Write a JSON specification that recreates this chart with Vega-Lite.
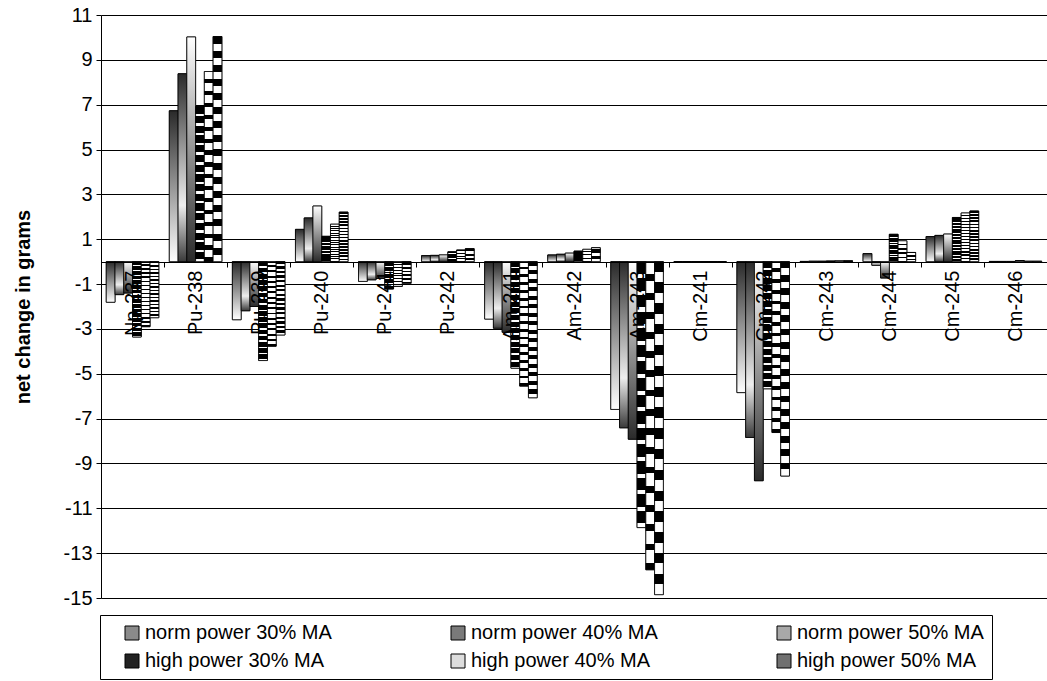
{
  "$schema": "https://vega.github.io/schema/vega-lite/v6.json",
  "width": 946,
  "height": 583,
  "autosize": {"type": "none"},
  "padding": {"left": 101, "top": 15, "right": 0, "bottom": 83},
  "background": "white",
  "config": {"font": "Liberation Sans", "view": {"stroke": null}},
  "data": {"values": [
    {"iso": "Np-237", "norm power 30% MA": -1.81, "norm power 40% MA": -1.47, "norm power 50% MA": -1.4, "high power 30% MA": -3.36, "high power 40% MA": -2.9, "high power 50% MA": -2.5},
    {"iso": "Pu-238", "norm power 30% MA": 6.73, "norm power 40% MA": 8.38, "norm power 50% MA": 10.02, "high power 30% MA": 6.93, "high power 40% MA": 8.48, "high power 50% MA": 10.04},
    {"iso": "Pu-239", "norm power 30% MA": -2.59, "norm power 40% MA": -2.19, "norm power 50% MA": -2.0, "high power 30% MA": -4.41, "high power 40% MA": -3.77, "high power 50% MA": -3.27},
    {"iso": "Pu-240", "norm power 30% MA": 1.44, "norm power 40% MA": 1.95, "norm power 50% MA": 2.48, "high power 30% MA": 1.13, "high power 40% MA": 1.67, "high power 50% MA": 2.21},
    {"iso": "Pu-241", "norm power 30% MA": -0.88, "norm power 40% MA": -0.81, "norm power 50% MA": -0.75, "high power 30% MA": -1.22, "high power 40% MA": -1.1, "high power 50% MA": -0.97},
    {"iso": "Pu-242", "norm power 30% MA": 0.27, "norm power 40% MA": 0.28, "norm power 50% MA": 0.3, "high power 30% MA": 0.44, "high power 40% MA": 0.52, "high power 50% MA": 0.58},
    {"iso": "Am-241", "norm power 30% MA": -2.56, "norm power 40% MA": -2.97, "norm power 50% MA": -3.15, "high power 30% MA": -4.75, "high power 40% MA": -5.55, "high power 50% MA": -6.07},
    {"iso": "Am-242", "norm power 30% MA": 0.3, "norm power 40% MA": 0.33, "norm power 50% MA": 0.38, "high power 30% MA": 0.47, "high power 40% MA": 0.55, "high power 50% MA": 0.62},
    {"iso": "Am-243", "norm power 30% MA": -6.59, "norm power 40% MA": -7.41, "norm power 50% MA": -7.92, "high power 30% MA": -11.86, "high power 40% MA": -13.74, "high power 50% MA": -14.85},
    {"iso": "Cm-241", "norm power 30% MA": 0, "norm power 40% MA": 0, "norm power 50% MA": 0, "high power 30% MA": 0, "high power 40% MA": 0, "high power 50% MA": 0},
    {"iso": "Cm-242", "norm power 30% MA": -5.84, "norm power 40% MA": -7.84, "norm power 50% MA": -9.77, "high power 30% MA": -5.67, "high power 40% MA": -7.62, "high power 50% MA": -9.56},
    {"iso": "Cm-243", "norm power 30% MA": 0.01, "norm power 40% MA": 0.02, "norm power 50% MA": 0.02, "high power 30% MA": 0.03, "high power 40% MA": 0.04, "high power 50% MA": 0.04},
    {"iso": "Cm-244", "norm power 30% MA": 0.36, "norm power 40% MA": -0.16, "norm power 50% MA": -0.73, "high power 30% MA": 1.22, "high power 40% MA": 0.93, "high power 50% MA": 0.41},
    {"iso": "Cm-245", "norm power 30% MA": 1.12, "norm power 40% MA": 1.17, "norm power 50% MA": 1.23, "high power 30% MA": 1.97, "high power 40% MA": 2.17, "high power 50% MA": 2.26},
    {"iso": "Cm-246", "norm power 30% MA": 0.01, "norm power 40% MA": 0.01, "norm power 50% MA": 0.01, "high power 30% MA": 0.05, "high power 40% MA": 0.02, "high power 50% MA": 0.02}
  ]},
  "transform": [
    {"fold": ["norm power 30% MA", "norm power 40% MA", "norm power 50% MA", "high power 30% MA", "high power 40% MA", "high power 50% MA"], "as": ["series", "value"]}
  ],
  "encoding": {
    "x": {
      "field": "iso", "type": "nominal", "sort": null,
      "scale": {"paddingInner": 0, "paddingOuter": 0},
      "axis": {
        "orient": "bottom", "offset": -336, "title": null, "labelAngle": 270,
        "labelFontSize": 20, "labelColor": "black", "labelAlign": "right", "labelBaseline": "middle",
        "tickBand": "extent", "tickSize": 5, "tickColor": "black", "domainColor": "black",
        "labelPadding": 3, "zindex": 1
      }
    },
    "xOffset": {
      "field": "series", "type": "nominal",
      "sort": ["norm power 30% MA", "norm power 40% MA", "norm power 50% MA", "high power 30% MA", "high power 40% MA", "high power 50% MA"],
      "scale": {"paddingInner": 0, "paddingOuter": 0.6}
    },
    "y": {
      "field": "value", "type": "quantitative",
      "scale": {"domain": [-15, 11], "nice": false, "zero": false},
      "axis": {
        "values": [-15, -13, -11, -9, -7, -5, -3, -1, 1, 3, 5, 7, 9, 11],
        "labelExpr": "(datum.value < 0 ? '-' : '') + abs(datum.value)",
        "grid": true, "gridColor": "black", "gridWidth": 1,
        "domainColor": "black", "tickColor": "black", "tickSize": 5,
        "labelFontSize": 20, "labelColor": "black", "labelPadding": 4,
        "title": "net change in grams", "titleFontSize": 20, "titleFontWeight": "bold",
        "titleColor": "black", "titlePadding": 30
      }
    }
  },
  "layer": [
    {
      "mark": {"type": "bar", "stroke": "black", "strokeWidth": 0.8},
      "encoding": {
        "fill": {
          "field": "series", "type": "nominal",
          "scale": {
            "domain": ["norm power 30% MA", "norm power 40% MA", "norm power 50% MA", "high power 30% MA", "high power 40% MA", "high power 50% MA"],
            "range": ["#8a8a8a", "#7a7a7a", "#a8a8a8", "#222222", "#dddddd", "#707070"]
          },
          "legend": {
            "orient": "none", "legendX": -1, "legendY": 600,
            "direction": "horizontal", "columns": 3, "columnPadding": 116, "rowPadding": 8,
            "padding": 8, "strokeColor": "black", "fillColor": "white",
            "symbolType": "square", "symbolSize": 196, "symbolStrokeColor": "black", "symbolStrokeWidth": 1,
            "labelFontSize": 20, "labelColor": "black", "labelOffset": 3, "labelLimit": 300,
            "title": "\u00a0", "titleOrient": "left", "titlePadding": 14, "titleFontSize": 20
          }
        }
      }
    },
    {
      "mark": {"type": "bar", "stroke": "black", "strokeWidth": 0.8},
      "encoding": {
        "fill": {
          "condition": [
            {"test": "datum.series === 'norm power 30% MA'", "value": {"gradient": "linear", "x1": 0, "y1": 0, "x2": 0, "y2": 1, "stops": [{"offset": 0, "color": "#2a2a2a"}, {"offset": 1, "color": "#ffffff"}]}},
            {"test": "datum.series === 'norm power 40% MA'", "value": {"gradient": "linear", "x1": 0, "y1": 0, "x2": 0, "y2": 1, "stops": [{"offset": 0, "color": "#2a2a2a"}, {"offset": 0.7, "color": "#eeeeee"}, {"offset": 1, "color": "#3a3a3a"}]}},
            {"test": "datum.series === 'norm power 50% MA'", "value": {"gradient": "linear", "x1": 0, "y1": 0, "x2": 0, "y2": 1, "stops": [{"offset": 0, "color": "#ffffff"}, {"offset": 1, "color": "#2a2a2a"}]}},
            {"test": "datum.series === 'high power 30% MA'", "value": {"gradient": "linear", "x1": 0, "y1": 0, "x2": 0, "y2": 1, "stops": [
              {"offset": 0, "color": "#000"}, {"offset": 0.047, "color": "#000"}, {"offset": 0.047, "color": "#fff"}, {"offset": 0.0625, "color": "#fff"},
              {"offset": 0.0625, "color": "#000"}, {"offset": 0.1095, "color": "#000"}, {"offset": 0.1095, "color": "#fff"}, {"offset": 0.125, "color": "#fff"},
              {"offset": 0.125, "color": "#000"}, {"offset": 0.172, "color": "#000"}, {"offset": 0.172, "color": "#fff"}, {"offset": 0.1875, "color": "#fff"},
              {"offset": 0.1875, "color": "#000"}, {"offset": 0.2345, "color": "#000"}, {"offset": 0.2345, "color": "#fff"}, {"offset": 0.25, "color": "#fff"},
              {"offset": 0.25, "color": "#000"}, {"offset": 0.297, "color": "#000"}, {"offset": 0.297, "color": "#fff"}, {"offset": 0.3125, "color": "#fff"},
              {"offset": 0.3125, "color": "#000"}, {"offset": 0.3595, "color": "#000"}, {"offset": 0.3595, "color": "#fff"}, {"offset": 0.375, "color": "#fff"},
              {"offset": 0.375, "color": "#000"}, {"offset": 0.422, "color": "#000"}, {"offset": 0.422, "color": "#fff"}, {"offset": 0.4375, "color": "#fff"},
              {"offset": 0.4375, "color": "#000"}, {"offset": 0.4845, "color": "#000"}, {"offset": 0.4845, "color": "#fff"}, {"offset": 0.5, "color": "#fff"},
              {"offset": 0.5, "color": "#000"}, {"offset": 0.547, "color": "#000"}, {"offset": 0.547, "color": "#fff"}, {"offset": 0.5625, "color": "#fff"},
              {"offset": 0.5625, "color": "#000"}, {"offset": 0.6095, "color": "#000"}, {"offset": 0.6095, "color": "#fff"}, {"offset": 0.625, "color": "#fff"},
              {"offset": 0.625, "color": "#000"}, {"offset": 0.672, "color": "#000"}, {"offset": 0.672, "color": "#fff"}, {"offset": 0.6875, "color": "#fff"},
              {"offset": 0.6875, "color": "#000"}, {"offset": 0.7345, "color": "#000"}, {"offset": 0.7345, "color": "#fff"}, {"offset": 0.75, "color": "#fff"},
              {"offset": 0.75, "color": "#000"}, {"offset": 0.797, "color": "#000"}, {"offset": 0.797, "color": "#fff"}, {"offset": 0.8125, "color": "#fff"},
              {"offset": 0.8125, "color": "#000"}, {"offset": 0.8595, "color": "#000"}, {"offset": 0.8595, "color": "#fff"}, {"offset": 0.875, "color": "#fff"},
              {"offset": 0.875, "color": "#000"}, {"offset": 0.922, "color": "#000"}, {"offset": 0.922, "color": "#fff"}, {"offset": 0.9375, "color": "#fff"},
              {"offset": 0.9375, "color": "#000"}, {"offset": 0.9845, "color": "#000"}, {"offset": 0.9845, "color": "#fff"}, {"offset": 1, "color": "#fff"}
            ]}},
            {"test": "datum.series === 'high power 40% MA'", "value": {"gradient": "linear", "x1": 0, "y1": 0, "x2": 0, "y2": 1, "stops": [
              {"offset": 0, "color": "#fff"}, {"offset": 0.04, "color": "#fff"}, {"offset": 0.04, "color": "#000"}, {"offset": 0.0625, "color": "#000"},
              {"offset": 0.0625, "color": "#fff"}, {"offset": 0.1025, "color": "#fff"}, {"offset": 0.1025, "color": "#000"}, {"offset": 0.125, "color": "#000"},
              {"offset": 0.125, "color": "#fff"}, {"offset": 0.165, "color": "#fff"}, {"offset": 0.165, "color": "#000"}, {"offset": 0.1875, "color": "#000"},
              {"offset": 0.1875, "color": "#fff"}, {"offset": 0.2275, "color": "#fff"}, {"offset": 0.2275, "color": "#000"}, {"offset": 0.25, "color": "#000"},
              {"offset": 0.25, "color": "#fff"}, {"offset": 0.29, "color": "#fff"}, {"offset": 0.29, "color": "#000"}, {"offset": 0.3125, "color": "#000"},
              {"offset": 0.3125, "color": "#fff"}, {"offset": 0.3525, "color": "#fff"}, {"offset": 0.3525, "color": "#000"}, {"offset": 0.375, "color": "#000"},
              {"offset": 0.375, "color": "#fff"}, {"offset": 0.415, "color": "#fff"}, {"offset": 0.415, "color": "#000"}, {"offset": 0.4375, "color": "#000"},
              {"offset": 0.4375, "color": "#fff"}, {"offset": 0.4775, "color": "#fff"}, {"offset": 0.4775, "color": "#000"}, {"offset": 0.5, "color": "#000"},
              {"offset": 0.5, "color": "#fff"}, {"offset": 0.54, "color": "#fff"}, {"offset": 0.54, "color": "#000"}, {"offset": 0.5625, "color": "#000"},
              {"offset": 0.5625, "color": "#fff"}, {"offset": 0.6025, "color": "#fff"}, {"offset": 0.6025, "color": "#000"}, {"offset": 0.625, "color": "#000"},
              {"offset": 0.625, "color": "#fff"}, {"offset": 0.665, "color": "#fff"}, {"offset": 0.665, "color": "#000"}, {"offset": 0.6875, "color": "#000"},
              {"offset": 0.6875, "color": "#fff"}, {"offset": 0.7275, "color": "#fff"}, {"offset": 0.7275, "color": "#000"}, {"offset": 0.75, "color": "#000"},
              {"offset": 0.75, "color": "#fff"}, {"offset": 0.79, "color": "#fff"}, {"offset": 0.79, "color": "#000"}, {"offset": 0.8125, "color": "#000"},
              {"offset": 0.8125, "color": "#fff"}, {"offset": 0.8525, "color": "#fff"}, {"offset": 0.8525, "color": "#000"}, {"offset": 0.875, "color": "#000"},
              {"offset": 0.875, "color": "#fff"}, {"offset": 0.915, "color": "#fff"}, {"offset": 0.915, "color": "#000"}, {"offset": 0.9375, "color": "#000"},
              {"offset": 0.9375, "color": "#fff"}, {"offset": 0.9775, "color": "#fff"}, {"offset": 0.9775, "color": "#000"}, {"offset": 1, "color": "#000"}
            ]}}
          ],
          "value": {"gradient": "linear", "x1": 0, "y1": 0, "x2": 0, "y2": 1, "stops": [
            {"offset": 0, "color": "#000"}, {"offset": 0.03125, "color": "#000"}, {"offset": 0.03125, "color": "#fff"}, {"offset": 0.0625, "color": "#fff"},
            {"offset": 0.0625, "color": "#000"}, {"offset": 0.09375, "color": "#000"}, {"offset": 0.09375, "color": "#fff"}, {"offset": 0.125, "color": "#fff"},
            {"offset": 0.125, "color": "#000"}, {"offset": 0.15625, "color": "#000"}, {"offset": 0.15625, "color": "#fff"}, {"offset": 0.1875, "color": "#fff"},
            {"offset": 0.1875, "color": "#000"}, {"offset": 0.21875, "color": "#000"}, {"offset": 0.21875, "color": "#fff"}, {"offset": 0.25, "color": "#fff"},
            {"offset": 0.25, "color": "#000"}, {"offset": 0.28125, "color": "#000"}, {"offset": 0.28125, "color": "#fff"}, {"offset": 0.3125, "color": "#fff"},
            {"offset": 0.3125, "color": "#000"}, {"offset": 0.34375, "color": "#000"}, {"offset": 0.34375, "color": "#fff"}, {"offset": 0.375, "color": "#fff"},
            {"offset": 0.375, "color": "#000"}, {"offset": 0.40625, "color": "#000"}, {"offset": 0.40625, "color": "#fff"}, {"offset": 0.4375, "color": "#fff"},
            {"offset": 0.4375, "color": "#000"}, {"offset": 0.46875, "color": "#000"}, {"offset": 0.46875, "color": "#fff"}, {"offset": 0.5, "color": "#fff"},
            {"offset": 0.5, "color": "#000"}, {"offset": 0.53125, "color": "#000"}, {"offset": 0.53125, "color": "#fff"}, {"offset": 0.5625, "color": "#fff"},
            {"offset": 0.5625, "color": "#000"}, {"offset": 0.59375, "color": "#000"}, {"offset": 0.59375, "color": "#fff"}, {"offset": 0.625, "color": "#fff"},
            {"offset": 0.625, "color": "#000"}, {"offset": 0.65625, "color": "#000"}, {"offset": 0.65625, "color": "#fff"}, {"offset": 0.6875, "color": "#fff"},
            {"offset": 0.6875, "color": "#000"}, {"offset": 0.71875, "color": "#000"}, {"offset": 0.71875, "color": "#fff"}, {"offset": 0.75, "color": "#fff"},
            {"offset": 0.75, "color": "#000"}, {"offset": 0.78125, "color": "#000"}, {"offset": 0.78125, "color": "#fff"}, {"offset": 0.8125, "color": "#fff"},
            {"offset": 0.8125, "color": "#000"}, {"offset": 0.84375, "color": "#000"}, {"offset": 0.84375, "color": "#fff"}, {"offset": 0.875, "color": "#fff"},
            {"offset": 0.875, "color": "#000"}, {"offset": 0.90625, "color": "#000"}, {"offset": 0.90625, "color": "#fff"}, {"offset": 0.9375, "color": "#fff"},
            {"offset": 0.9375, "color": "#000"}, {"offset": 0.96875, "color": "#000"}, {"offset": 0.96875, "color": "#fff"}, {"offset": 1, "color": "#fff"}
          ]}
        }
      }
    }
  ]
}
